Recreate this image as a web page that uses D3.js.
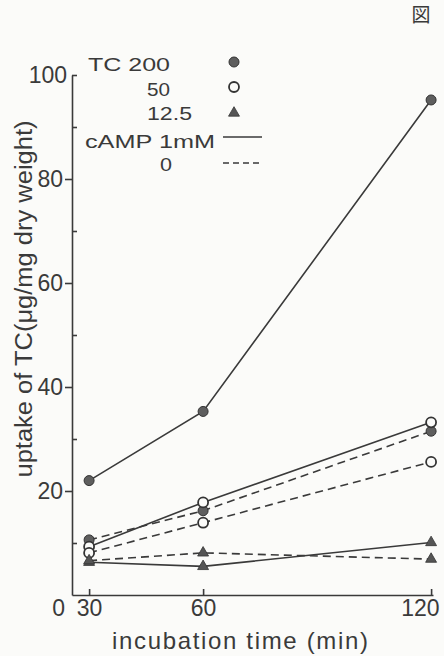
<!DOCTYPE html>
<meta charset="utf-8">
<html>
<style type='text/css'>
  body { margin:0; background:#fbfbf9; }
  svg text { font-family:"Liberation Sans", Arial, sans-serif; fill:#3a3a3a; }
</style>
<script src="https://d3js.org/d3.v7.min.js"></script>
<body>
<svg id="my_dataviz" width="444" height="656"></svg>

<script>

// data
var times = [30, 60, 120];
var tc200_camp = [22, 35.3, 95.2];
var tc200_none = [10.6, 16.2, 31.5];
var tc50_camp = [9.3, 17.8, 33.2];
var tc50_none = [8.1, 13.9, 25.6];
var tc125_camp = [6.3, 5.5, 10.1];
var tc125_none = [6.6, 8.1, 6.9];

var yMajor = [20, 40, 60, 80, 100];
var yMinor = [10, 30, 50, 70, 90, 100];
var legendLabels = ["TC 200", "50", "12.5", "cAMP 1mM", "0"];

var series = [
  {v: tc200_camp, mark: "filled", dash: false},
  {v: tc200_none, mark: "filled", dash: true},
  {v: tc50_camp, mark: "open", dash: false},
  {v: tc50_none, mark: "open", dash: true},
  {v: tc125_camp, mark: "tri", dash: false},
  {v: tc125_none, mark: "tri", dash: true}
];

var svg = d3.select("svg");
var ink = "#3a3a3a";

// scales
var x = d3.scaleLinear().domain([25.5, 120.5]).range([72, 433]);
var y = d3.scaleLinear().domain([0, 100]).range([595, 75]);

// axes
var gy = svg.append("g").attr("transform", "translate(72,0)")
  .call(d3.axisLeft(y).tickValues(yMajor).tickSize(7).tickPadding(2).tickSizeOuter(0));
gy.selectAll(".tick text").style("font-size", "23px").style("font-family", null);
gy.selectAll(".tick").filter(function(d) { return d === 100; })
  .call(function(t) { t.select("line").remove(); t.select("text").attr("x", -5); });

var gy2 = svg.append("g").attr("transform", "translate(72,0)")
  .call(d3.axisRight(y).tickValues(yMinor).tickSize(5).tickFormat(""));
gy2.select(".domain").remove();

var gx = svg.append("g").attr("transform", "translate(0,595)")
  .call(d3.axisBottom(x).tickValues(times).tickSizeInner(-6).tickSizeOuter(0).tickPadding(5));
gx.selectAll(".tick text").style("font-size", "23px").style("font-family", null);
gx.selectAll(".tick").filter(function(d) { return d === 120; })
  .select("text").attr("text-anchor", "end").attr("x", 8);

svg.selectAll(".domain, .tick line").attr("stroke", ink).attr("stroke-width", 1.6);
svg.selectAll(".tick text").attr("fill", ink);

// corner zero
svg.append("text").attr("x", 65).attr("y", y(0) + 13).attr("dy", "0.35em")
  .attr("text-anchor", "end").style("font-size", "23px").text("0");

// axis titles
svg.append("text")
  .attr("transform", "translate(32," + 299 + ") rotate(-90)")
  .attr("text-anchor", "middle")
  .attr("textLength", 357).attr("lengthAdjust", "spacingAndGlyphs")
  .style("font-size", "23px")
  .text("uptake of TC(\u03bcg/mg dry weight)");

svg.append("text")
  .attr("x", 240).attr("y", 649)
  .attr("text-anchor", "middle")
  .attr("textLength", 256).attr("lengthAdjust", "spacing")
  .style("font-size", "24px")
  .text("incubation time (min)");

// lines
var line = d3.line()
  .x(function(d, i) { return x(times[i]); })
  .y(function(d) { return y(d); });

svg.selectAll(".series")
  .data(series)
  .enter()
  .append("path")
    .attr("d", function(s) { return line(s.v); })
    .attr("fill", "none")
    .attr("stroke", ink)
    .attr("stroke-width", 1.6)
    .attr("stroke-dasharray", function(s) { return s.dash ? "8,5" : null; });

// markers
var tri = d3.symbol().type(d3.symbolTriangle).size(52);

function drawMark(g, kind, cx, cy) {
  if (kind === "tri") {
    g.append("path").attr("d", tri()).attr("transform", "translate(" + cx + "," + cy + ")")
      .attr("fill", "#555").attr("stroke", "#333").attr("stroke-width", 0.8);
  } else {
    g.append("circle").attr("cx", cx).attr("cy", cy).attr("r", 5)
      .attr("fill", kind === "filled" ? "#5e5e5e" : "#fbfbf9")
      .attr("stroke", "#333").attr("stroke-width", kind === "filled" ? 1 : 1.8);
  }
}

var marks = svg.append("g");
series.forEach(function(s) {
  s.v.forEach(function(v, i) { drawMark(marks, s.mark, x(times[i]), y(v)); });
});

// legend (widths matched to the printed labels)
var leg = svg.append("g").style("font-size", "19px");
var legPos = [[88, 71], [147, 96], [147, 120], [85, 148], [160, 171]];
var legLen = [82, 23, 45, 130, 12];
legendLabels.forEach(function(t, i) {
  leg.append("text").attr("x", legPos[i][0]).attr("y", legPos[i][1])
    .attr("textLength", legLen[i]).attr("lengthAdjust", "spacingAndGlyphs")
    .text(t);
});
drawMark(leg, "filled", 234, 62);
drawMark(leg, "open", 234, 87);
drawMark(leg, "tri", 234, 113);
leg.append("line").attr("x1", 223).attr("x2", 262).attr("y1", 137).attr("y2", 137)
  .attr("stroke", ink).attr("stroke-width", 1.6);
leg.append("line").attr("x1", 223).attr("x2", 262).attr("y1", 163).attr("y2", 163)
  .attr("stroke", ink).attr("stroke-width", 1.6).attr("stroke-dasharray", "6,4");

// figure mark
svg.append("text").attr("x", 421).attr("y", 22).attr("text-anchor", "middle")
  .style("font-family", "'Noto Sans CJK JP'").style("font-size", "19px").text("図");

</script>
</body>
</html>
